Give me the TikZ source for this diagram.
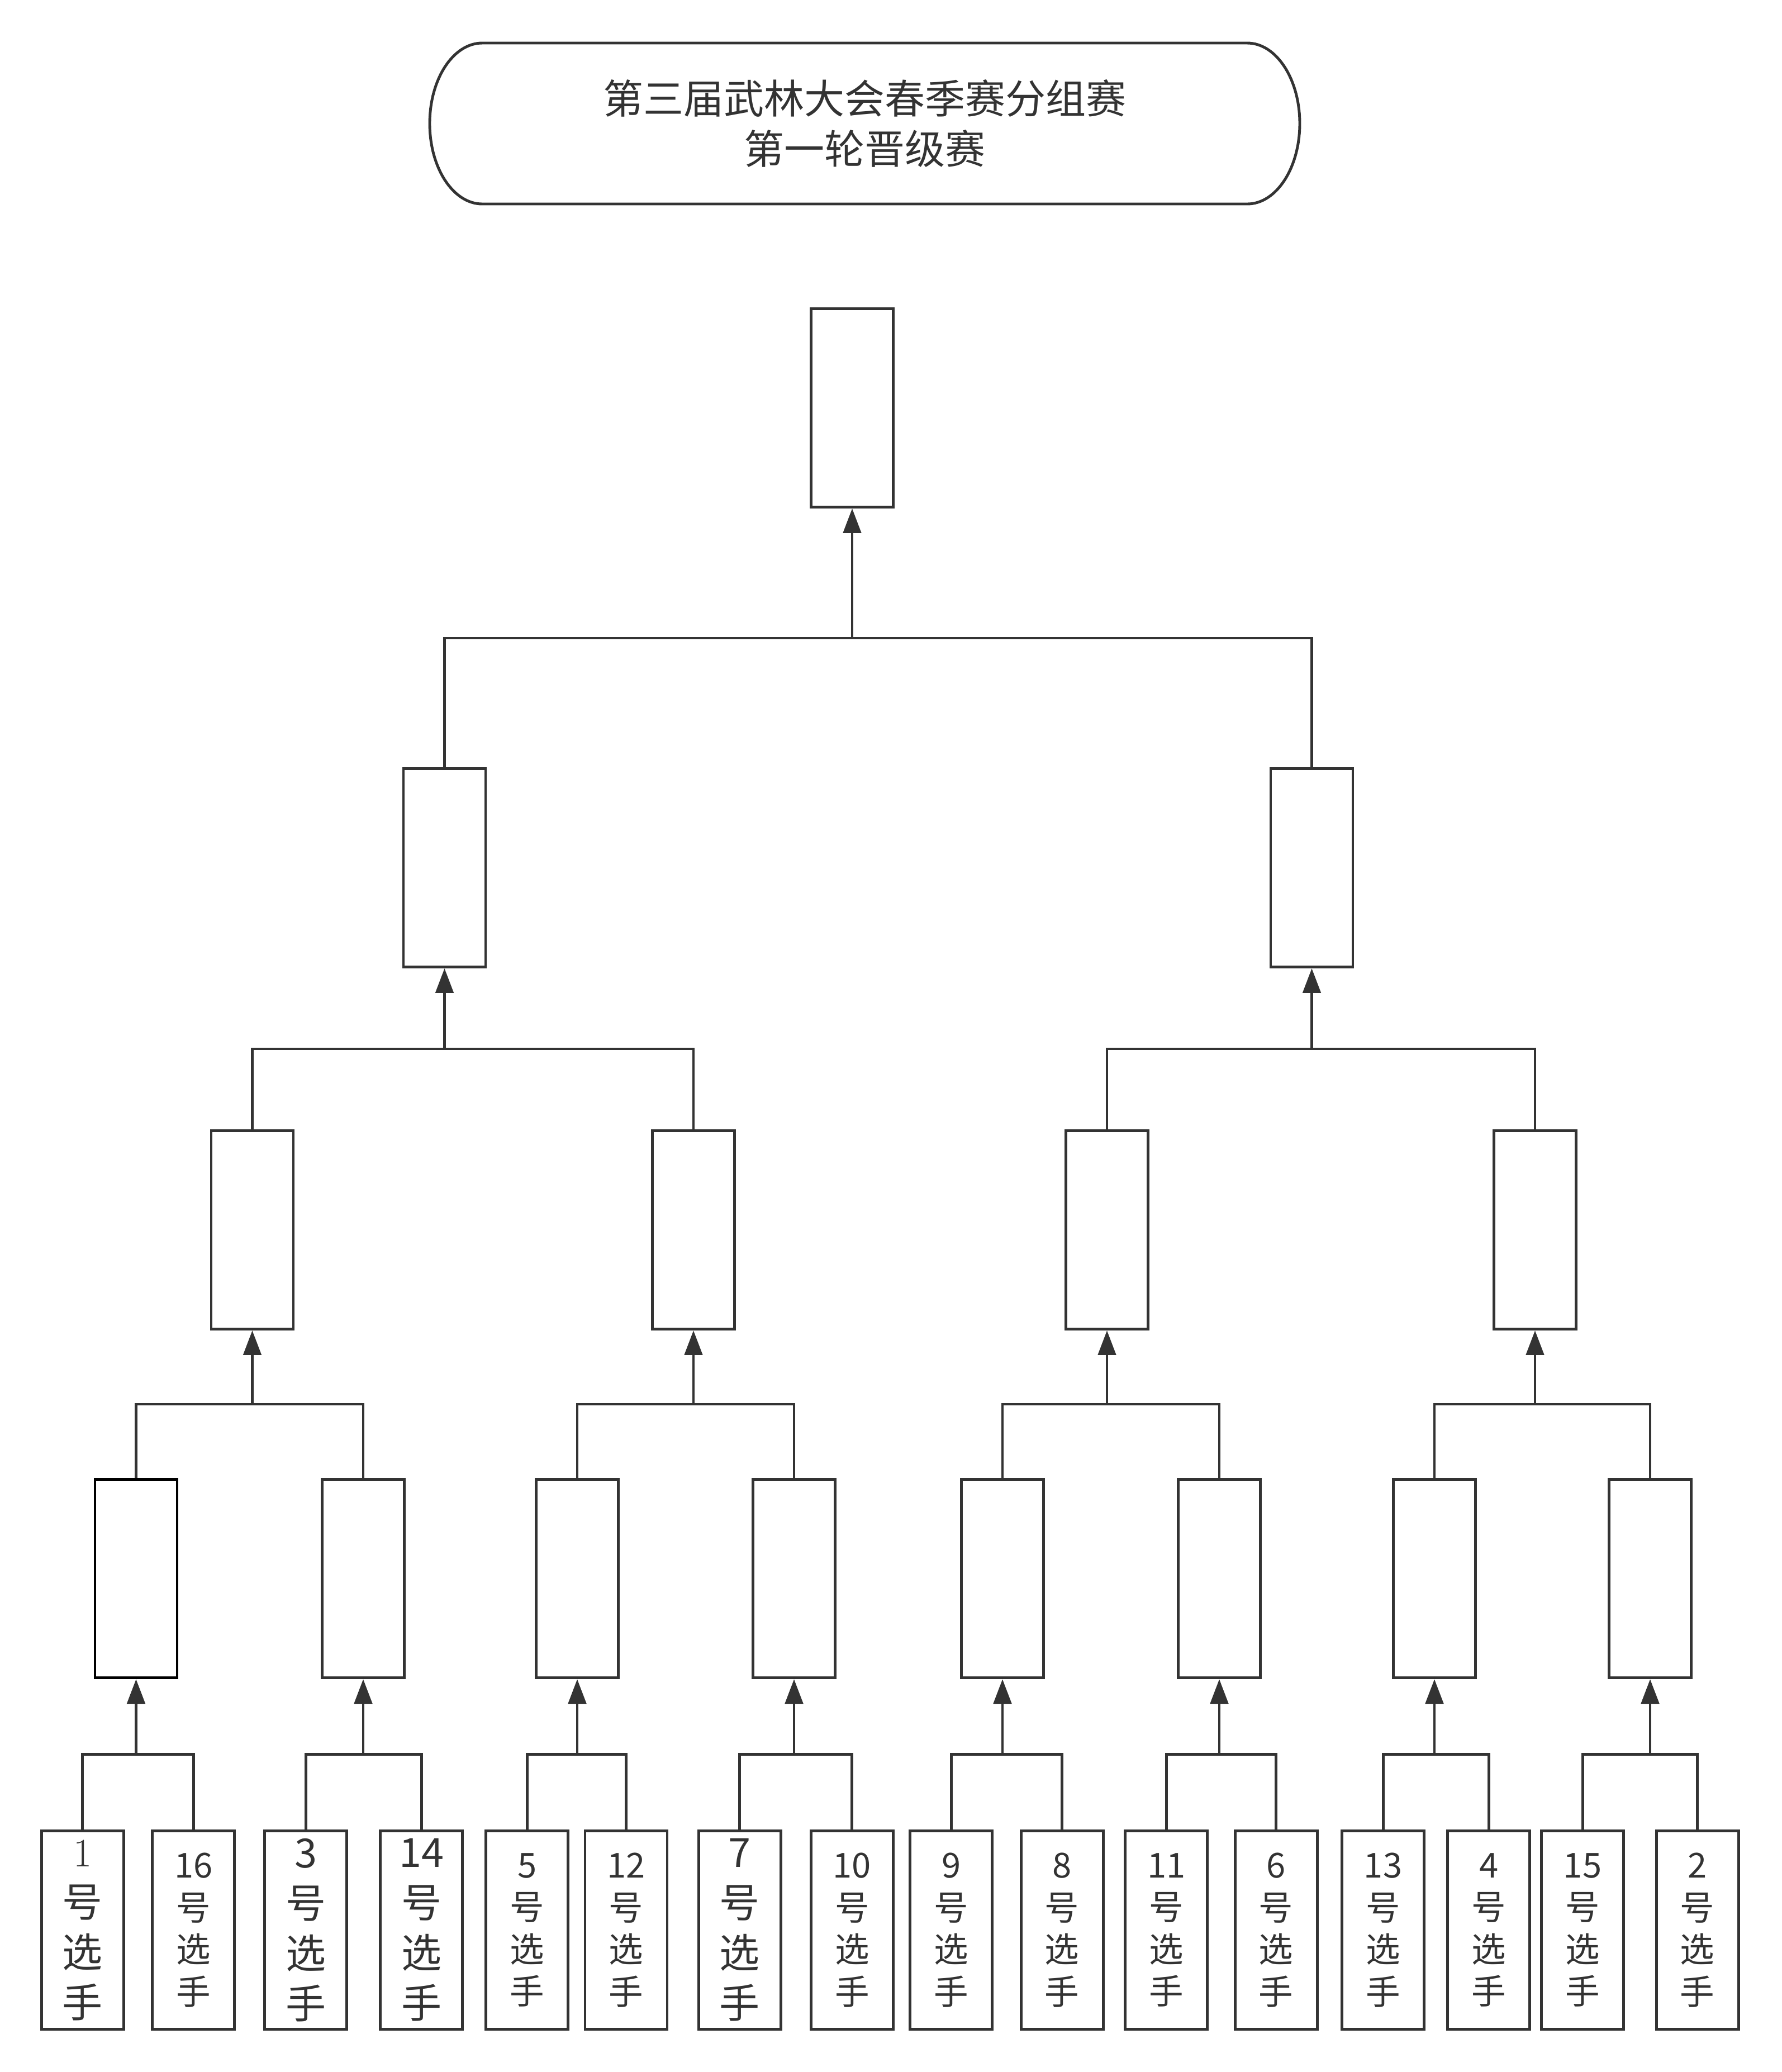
\documentclass[tikz,border=0pt]{standalone}
\usepackage{fontspec}
\usepackage{xcolor}
\usepackage{tikz}
\usetikzlibrary{arrows.meta, positioning}
\newfontfamily\cjk{Noto Sans CJK SC}
\definecolor{linegray}{HTML}{333333}

\begin{document}
\begin{tikzpicture}[
    banner/.style={rectangle, outer sep=0pt, align=center, minimum width=15.57cm, minimum height=2.88cm, text=linegray, font=\cjk\fontsize{20.5}{25.6}\selectfont},
    outline/.style={line width=1.4pt, draw=linegray},
    slot/.style={rectangle, draw=linegray, line width=1.4pt, fill=white, minimum width=1.47cm, minimum height=3.55cm, inner sep=0pt},
    player/.style={slot, align=center, text=linegray, font=\cjk\fontsize{17.5}{21.5}\selectfont},
    bigplayer/.style={player, font=\cjk\fontsize{20.5}{25.6}\selectfont},
    link/.style={line width=1.4pt, color=linegray},
    advance/.style={-{Triangle[length=0.44cm, width=0.32cm]}, line width=1.4pt, color=linegray}
]
\useasboundingbox (0,0) rectangle (31.89,-37.08);

\node[banner] (title) at (15.475,-2.21) {第三届武林大会春季赛分组赛\\第一轮晋级赛};
% half-ellipse ends of the title box
\draw[outline] ([xshift=0.94cm]title.north west) -- ([xshift=-0.94cm]title.north east)
    arc[start angle=90, end angle=-90, x radius=0.94cm, y radius=1.44cm]
    -- ([xshift=0.94cm]title.south west)
    arc[start angle=270, end angle=90, x radius=0.94cm, y radius=1.44cm] -- cycle;

\node[slot] (final) at (15.25,-7.30) {};

\node[slot] (semi1) at (7.955,-15.53) {};
\node[slot] (semi2) at (23.475,-15.53) {};

\node[slot] (qf1) at (4.515,-22.01) {};
\node[slot] (qf2) at (12.41,-22.01) {};
\node[slot] (qf3) at (19.81,-22.01) {};
\node[slot] (qf4) at (27.47,-22.01) {};

\node[slot, draw=black] (r1) at (2.435,-28.25) {};
\node[slot] (r2) at (6.50,-28.25) {};
\node[slot] (r3) at (10.33,-28.25) {};
\node[slot] (r4) at (14.21,-28.25) {};
\node[slot] (r5) at (17.94,-28.25) {};
\node[slot] (r6) at (21.82,-28.25) {};
\node[slot] (r7) at (25.67,-28.25) {};
\node[slot] (r8) at (29.53,-28.25) {};

\node[bigplayer] (p1) at (1.477,-34.54) {{\rmfamily 1}\\号\\选\\手};
\node[player] (p16) at (3.463,-34.54) {16\\号\\选\\手};
\node[bigplayer] (p3) at (5.473,-34.54) {3\\号\\选\\手};
\node[bigplayer] (p14) at (7.541,-34.54) {14\\号\\选\\手};
\node[player] (p5) at (9.432,-34.54) {5\\号\\选\\手};
\node[player] (p12) at (11.205,-34.54) {12\\号\\选\\手};
\node[bigplayer] (p7) at (13.238,-34.54) {7\\号\\选\\手};
\node[player] (p10) at (15.248,-34.54) {10\\号\\选\\手};
\node[player] (p9) at (17.021,-34.54) {9\\号\\选\\手};
\node[player] (p8) at (19.006,-34.54) {8\\号\\选\\手};
\node[player] (p11) at (20.874,-34.54) {11\\号\\选\\手};
\node[player] (p6) at (22.836,-34.54) {6\\号\\选\\手};
\node[player] (p13) at (24.751,-34.54) {13\\号\\选\\手};
\node[player] (p4) at (26.642,-34.54) {4\\号\\选\\手};
\node[player] (p15) at (28.321,-34.54) {15\\号\\选\\手};
\node[player] (p2) at (30.377,-34.54) {2\\号\\选\\手};

% heights of the bracket bars
\coordinate (barA) at (0,-11.42);
\coordinate (barB) at (0,-18.77);
\coordinate (barC) at (0,-25.13);
\coordinate (barD) at (0,-31.39);

% first round
\draw[link] (p1.north) |- (r1.south |- barD) -| (p16.north);
\draw[link] (p3.north) |- (r2.south |- barD) -| (p14.north);
\draw[link] (p5.north) |- (r3.south |- barD) -| (p12.north);
\draw[link] (p7.north) |- (r4.south |- barD) -| (p10.north);
\draw[link] (p9.north) |- (r5.south |- barD) -| (p8.north);
\draw[link] (p11.north) |- (r6.south |- barD) -| (p6.north);
\draw[link] (p13.north) |- (r7.south |- barD) -| (p4.north);
\draw[link] (p15.north) |- (r8.south |- barD) -| (p2.north);
\draw[advance] (r1.south |- barD) -- (r1.south);
\draw[advance] (r2.south |- barD) -- (r2.south);
\draw[advance] (r3.south |- barD) -- (r3.south);
\draw[advance] (r4.south |- barD) -- (r4.south);
\draw[advance] (r5.south |- barD) -- (r5.south);
\draw[advance] (r6.south |- barD) -- (r6.south);
\draw[advance] (r7.south |- barD) -- (r7.south);
\draw[advance] (r8.south |- barD) -- (r8.south);

% second round
\draw[link] (r1.north) |- (qf1.south |- barC) -| (r2.north);
\draw[link] (r3.north) |- (qf2.south |- barC) -| (r4.north);
\draw[link] (r5.north) |- (qf3.south |- barC) -| (r6.north);
\draw[link] (r7.north) |- (qf4.south |- barC) -| (r8.north);
\draw[advance] (qf1.south |- barC) -- (qf1.south);
\draw[advance] (qf2.south |- barC) -- (qf2.south);
\draw[advance] (qf3.south |- barC) -- (qf3.south);
\draw[advance] (qf4.south |- barC) -- (qf4.south);

% third round
\draw[link] (qf1.north) |- (semi1.south |- barB) -| (qf2.north);
\draw[link] (qf3.north) |- (semi2.south |- barB) -| (qf4.north);
\draw[advance] (semi1.south |- barB) -- (semi1.south);
\draw[advance] (semi2.south |- barB) -- (semi2.south);

% final
\draw[link] (semi1.north) |- (final.south |- barA) -| (semi2.north);
\draw[advance] (final.south |- barA) -- (final.south);
\end{tikzpicture}
\end{document}
